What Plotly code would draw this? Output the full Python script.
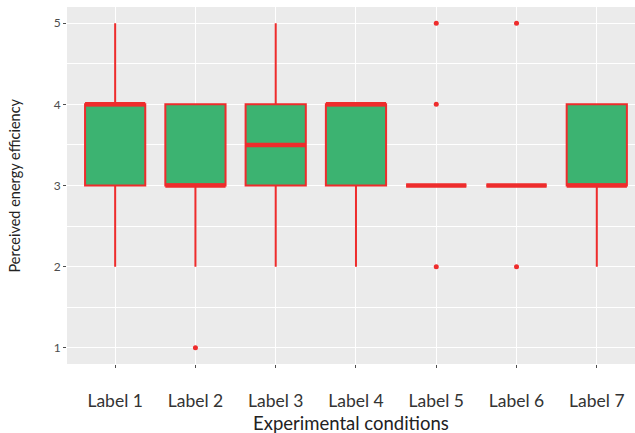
import plotly.graph_objects as go

categories = ["Label 1", "Label 2", "Label 3", "Label 4", "Label 5", "Label 6", "Label 7"]
lower_whisker = [2, 2, 2, 2, 3, 3, 2]
q1_values = [3, 3, 3, 3, 3, 3, 3]
median_values = [4, 3, 3.5, 4, 3, 3, 3]
q3_values = [4, 4, 4, 4, 3, 3, 4]
upper_whisker = [5, 4, 5, 4, 3, 3, 4]
outlier_categories = ["Label 2", "Label 5", "Label 5", "Label 5", "Label 6", "Label 6"]
outlier_values = [1, 2, 4, 5, 2, 5]

RED = "#EE2C2C"
GREEN = "#3CB371"
BOX_W = 0.75

pos = list(range(1, len(categories) + 1))
pos_of = {c: p for c, p in zip(categories, pos)}

fig = go.Figure()
fig.add_trace(go.Box(
    x=pos, q1=q1_values, median=median_values, q3=q3_values,
    lowerfence=lower_whisker, upperfence=upper_whisker,
    width=BOX_W, fillcolor=GREEN, line=dict(color=RED, width=2),
    whiskerwidth=0, boxpoints=False, showlegend=False, hoverinfo="skip",
))

mx, my = [], []
for p, m in zip(pos, median_values):
    mx += [p - BOX_W / 2, p + BOX_W / 2, None]
    my += [m, m, None]
fig.add_trace(go.Scatter(x=mx, y=my, mode="lines", line=dict(color=RED, width=4.5),
                         showlegend=False, hoverinfo="skip"))

fig.add_trace(go.Scatter(x=[pos_of[c] for c in outlier_categories], y=outlier_values,
                         mode="markers", marker=dict(color=RED, size=5),
                         showlegend=False, hoverinfo="skip"))

font = "Lato"
fig.update_layout(
    width=635, height=433,
    margin=dict(l=67, r=0, t=7, b=69, autoexpand=False),
    paper_bgcolor="white", plot_bgcolor="#EBEBEB",
    font=dict(family=font, color="#333333"),
    xaxis=dict(
        range=[0.4, 7.476], tickvals=pos, ticktext=categories, automargin=False,
        showgrid=True, gridcolor="white", gridwidth=1.2, zeroline=False,
        ticks="outside", ticklen=3, tickcolor="#4D4D4D", tickwidth=1,
        ticklabelstandoff=18,
        tickfont=dict(size=17.5, color="#333333", family=font),
    ),
    yaxis=dict(
        range=[0.8, 5.2], tickvals=[1, 2, 3, 4, 5], automargin=False,
        showgrid=True, gridcolor="white", gridwidth=1.2, zeroline=False,
        minor=dict(dtick=0.5, tick0=0.5, showgrid=True, gridcolor="white", gridwidth=0.6),
        ticks="outside", ticklen=3, tickcolor="#4D4D4D", tickwidth=1,
        tickfont=dict(size=12, color="#4D4D4D", family=font),
    ),
    annotations=[
        dict(text="Experimental conditions", xref="paper", yref="paper", x=0.5, y=0,
             xanchor="center", yanchor="middle", yshift=-59, showarrow=False,
             font=dict(size=18.5, color="#222222", family=font)),
        dict(text="Perceived energy efficiency", xref="paper", yref="paper", x=0, y=0.5,
             xanchor="center", yanchor="middle", xshift=-53, textangle=-90, showarrow=False,
             font=dict(size=14.5, color="#222222", family=font)),
    ],
)

fig.write_html("out.html", config={"displayModeBar": False},
               post_script="document.body.style.margin='0px';")
